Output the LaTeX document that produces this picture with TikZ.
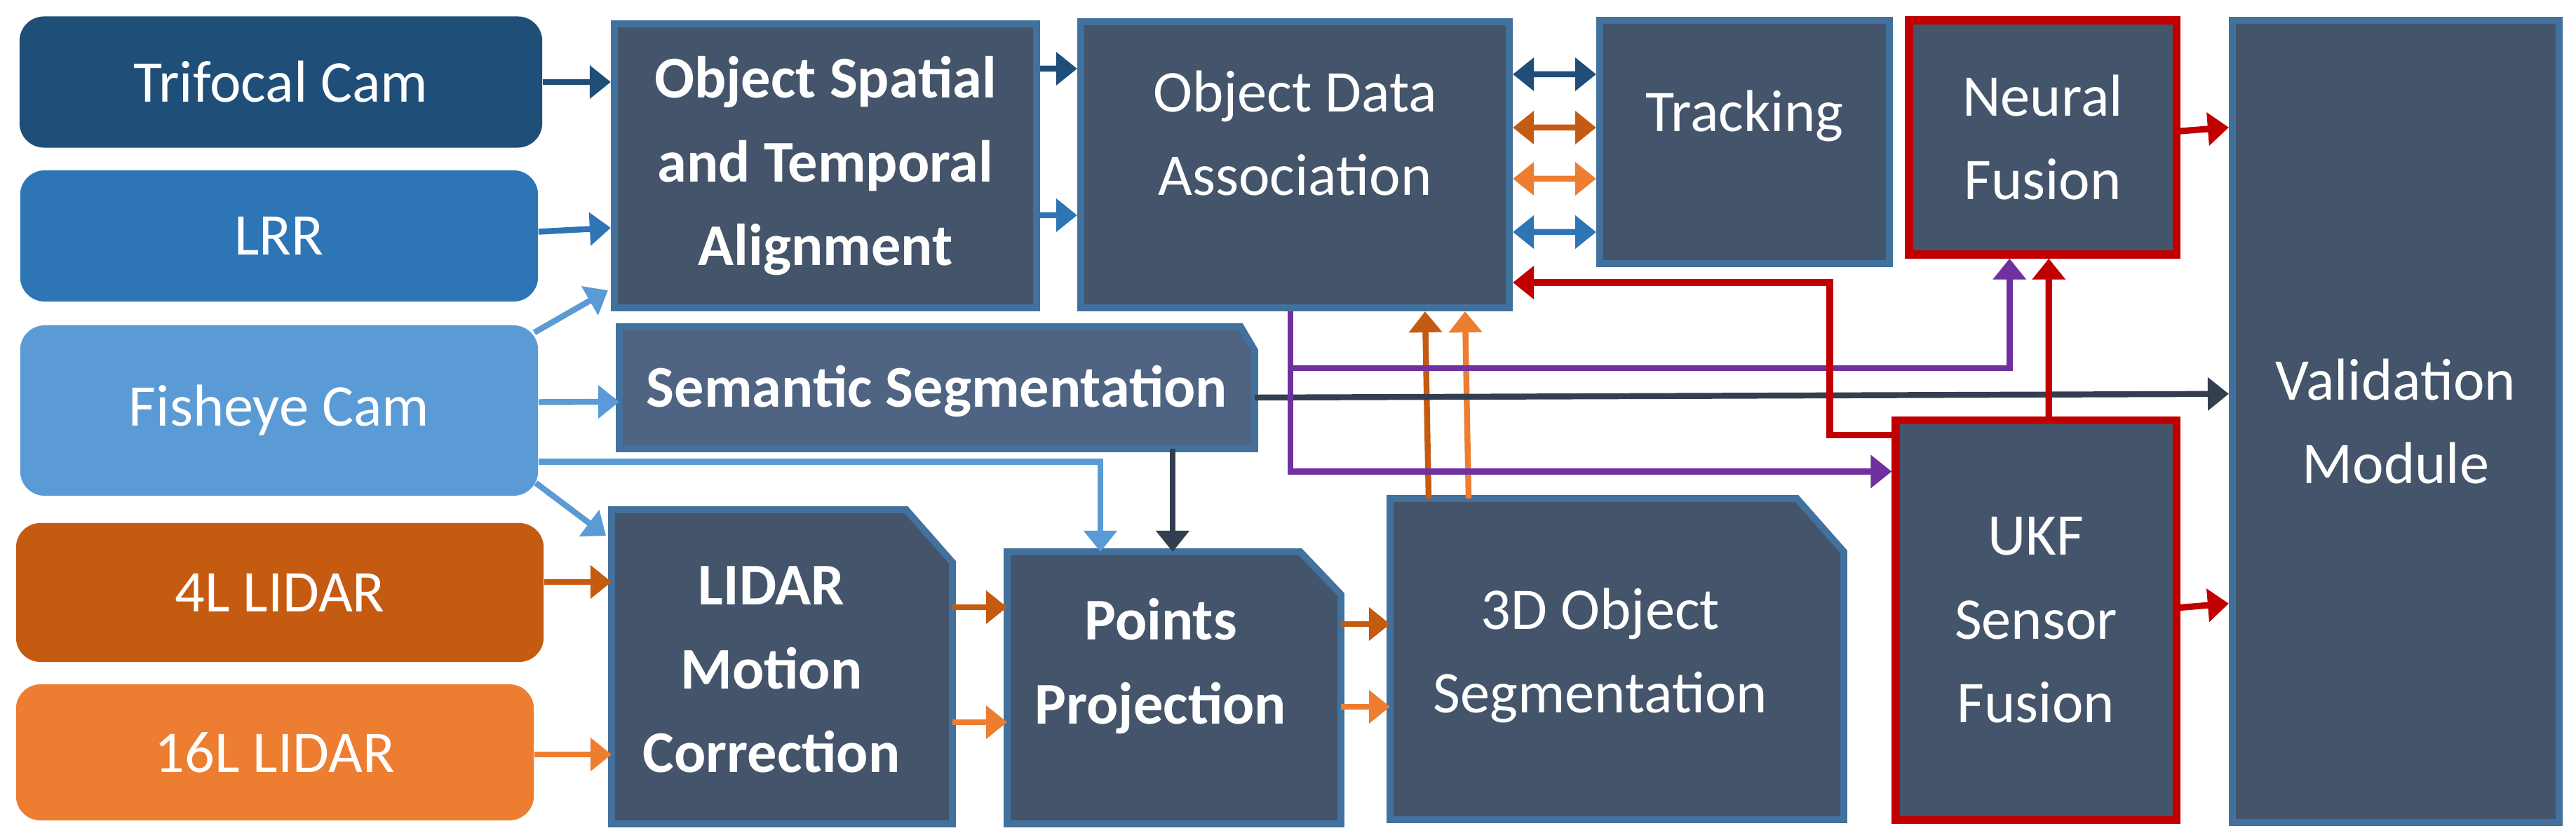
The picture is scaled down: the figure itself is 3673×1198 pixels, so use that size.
\documentclass[tikz,border=0pt]{standalone}
\usepackage{fontspec}
\setmainfont{Carlito}
\usetikzlibrary{arrows.meta,calc}
\definecolor{boxfill}{HTML}{44546A}
\definecolor{boxline}{HTML}{41719C}
\definecolor{ssfill}{HTML}{4F6382}
\definecolor{ctri}{HTML}{1F4E79}
\definecolor{clrr}{HTML}{2E75B6}
\definecolor{cfish}{HTML}{5B9BD5}
\definecolor{cfour}{HTML}{C55A11}
\definecolor{csix}{HTML}{ED7D31}
\definecolor{cred}{HTML}{C00000}
\definecolor{cpur}{HTML}{7030A0}
\definecolor{cdark}{HTML}{323F4F}
\begin{document}
\begin{tikzpicture}[x=0.01cm,y=-0.01cm,
  txt/.style={text=white,font=\fontsize{24}{34}\selectfont,align=center},
  inbox/.style={txt,rounded corners=0.35cm,inner sep=0pt},
  box/.style={txt,fill=boxfill,draw=boxline,line width=2.8pt,inner sep=0pt},
  redbox/.style={box,draw=cred,line width=3.2pt},
  clip/.style={fill=boxfill,draw=boxline,line width=2.8pt},
  arr/.style={line width=2.4pt,-{Triangle[length=0.3cm,width=0.46cm]}},
  darr/.style={line width=2.4pt,{Triangle[length=0.3cm,width=0.46cm]}-{Triangle[length=0.3cm,width=0.46cm]}}]
\fill[white] (0,0) rectangle (3673,1198);
% inputs
\node[inbox,fill=ctri,minimum width=745\pgflinewidth,minimum width=7.45cm,minimum height=1.87cm] (tri) at (400.5,117) {Trifocal Cam};
\node[inbox,fill=clrr,minimum width=7.38cm,minimum height=1.87cm] (lrr) at (398,336.5) {LRR};
\node[inbox,fill=cfish,minimum width=7.38cm,minimum height=2.43cm] (fish) at (398,585.5) {Fisheye Cam};
\node[inbox,fill=cfour,minimum width=7.52cm,minimum height=1.98cm] (l4) at (399,845) {4L LIDAR};
\node[inbox,fill=csix,minimum width=7.38cm,minimum height=1.94cm] (l16) at (392,1073) {16L LIDAR};
% rect boxes
\node[box,minimum width=6.02cm,minimum height=4.05cm,font=\fontsize{24}{34}\selectfont\bfseries] (osta) at (1177,236.5) {Object Spatial\\and Temporal\\Alignment};
\node[box,minimum width=6.11cm,minimum height=4.08cm] (oda) at (1846.5,235) {};
\node[txt] at (1846.5,190) {Object Data\\Association};
\node[box,minimum width=4.13cm,minimum height=3.47cm] (trk) at (2487.5,202.5) {};
\node[txt] at (2487.5,165) {Tracking};
\node[redbox,minimum width=3.81cm,minimum height=3.34cm] (neural) at (2912.5,196) {Neural\\Fusion};
\node[redbox,minimum width=4.0cm,minimum height=5.69cm] (ukf) at (2903,884.5) {UKF\\Sensor\\Fusion};
\node[box,minimum width=4.66cm,minimum height=11.44cm] (val) at (3416,601) {Validation\\Module};
% clipped boxes
\coordinate (ssNW) at (883,466); \coordinate (ssSW) at (883,640); \coordinate (ssSE) at (1789,640);
\draw[clip,fill=ssfill] (ssNW) -- (1769,466) -- (1789,500) -- (ssSE) -- (ssSW) -- cycle;
\node[txt,font=\fontsize{24}{34}\selectfont\bfseries] (ss) at (1336,558) {Semantic Segmentation};
\coordinate (lmcNW) at (872,727); \coordinate (lmcSW) at (872,1175); \coordinate (lmcSE) at (1358,1175);
\draw[clip] (lmcNW) -- (1292,727) -- (1358,802) -- (lmcSE) -- (lmcSW) -- cycle;
\node[txt,font=\fontsize{24}{34}\selectfont\bfseries] (lmc) at (1100,955) {LIDAR\\Motion\\Correction};
\coordinate (ppNW) at (1436,787); \coordinate (ppSW) at (1436,1175); \coordinate (ppSE) at (1912,1175);
\draw[clip] (ppNW) -- (1854,787) -- (1912,848) -- (ppSE) -- (ppSW) -- cycle;
\node[txt,font=\fontsize{24}{34}\selectfont\bfseries] (pp) at (1655,950) {Points\\Projection};
\coordinate (d3NW) at (1982,711); \coordinate (d3SW) at (1982,1169); \coordinate (d3SE) at (2629,1169);
\draw[clip] (d3NW) -- (2562,711) -- (2629,787) -- (d3SE) -- (d3SW) -- cycle;
\node[txt] (d3) at (2282,935) {3D Object\\Segmentation};
% arrows inputs
\draw[arr,ctri] (tri.east) -- (osta.west |- tri.east);
\draw[arr,clrr] ($(lrr.east)+(0,-6)$) -- ($(osta.north west)+(0,296)$);
\draw[arr,cfish] ($(fish.north east)+(-6,11)$) -- ($(osta.south west)+(-4,-30)$);
\draw[arr,cfish] ($(fish.east)+(0,-12)$) -- ($(ssSW)+(0,-67)$);
\draw[arr,cfish] ($(fish.east)+(0,73)$) -| ($(ppNW)+(133,0)$);
\draw[arr,cfish] ($(fish.south east)+(-4,-19)$) -- ($(lmcNW)+(-8,37)$);
\draw[arr,cfour] ($(l4.east)+(0,-15)$) -- ($(lmcSW)+(0,-345)$);
\draw[arr,csix] ($(l16.east)+(0,3)$) -- ($(lmcSW)+(0,-99)$);
\draw[arr,cdark] ($(ssSW)+(789,0)$) -- ($(ppNW)+(236,0)$);
\draw[arr,cfour] ($(lmcSE)+(0,-309)$) -- ($(ppSW)+(0,-309)$);
\draw[arr,csix] ($(lmcSE)+(0,-145)$) -- ($(ppSW)+(0,-145)$);
\draw[arr,cfour] ($(ppSE)+(0,-285)$) -- ($(d3SW)+(0,-279)$);
\draw[arr,csix] ($(ppSE)+(0,-167)$) -- ($(d3SW)+(0,-161)$);
\draw[arr,cfour] ($(d3NW)+(55,0)$) -- ($(oda.south west)+(496,0)$);
\draw[arr,csix] ($(d3NW)+(112,0)$) -- ($(oda.south west)+(553,0)$);
\draw[arr,ctri] ($(osta.north east)+(0,69)$) -- ($(oda.north west)+(0,72)$);
\draw[arr,clrr] ($(osta.north east)+(0,278)$) -- ($(oda.north west)+(0,281)$);
\draw[darr,ctri] ($(oda.north east)+(0,80)$) -- ($(trk.north west)+(0,82)$);
\draw[darr,cfour] ($(oda.north east)+(0,156)$) -- ($(trk.north west)+(0,158)$);
\draw[darr,csix] ($(oda.north east)+(0,229)$) -- ($(trk.north west)+(0,231)$);
\draw[darr,clrr] ($(oda.north east)+(0,305)$) -- ($(trk.north west)+(0,307)$);
% long lines
\draw[arr,cdark] ($(ssSE)+(0,-73)$) -- ($(val.north west)+(0,538)$);
\draw[arr,cpur] ($(oda.south west)+(304,0)$) |- ($(ukf.west)+(0,-212)$);
\draw[arr,cpur] ($(oda.south west)+(304,81)$) -| ($(neural.south west)+(149,0)$);
\coordinate (rk) at (2609,403);
\draw[arr,cred,line width=2.6pt] ($(ukf.north west)+(0,26)$) -| (rk) -- (oda.east |- rk);
\draw[arr,cred,line width=2.6pt] ($(ukf.north west)+(224,0)$) -- ($(neural.south west)+(205,0)$);
\draw[arr,cred,line width=2.6pt] ($(neural.east)+(0,-9)$) -- ($(val.north west)+(0,158)$);
\draw[arr,cred,line width=2.6pt] ($(ukf.east)+(0,-18)$) -- ($(val.north west)+(0,837)$);
\end{tikzpicture}
\end{document}
